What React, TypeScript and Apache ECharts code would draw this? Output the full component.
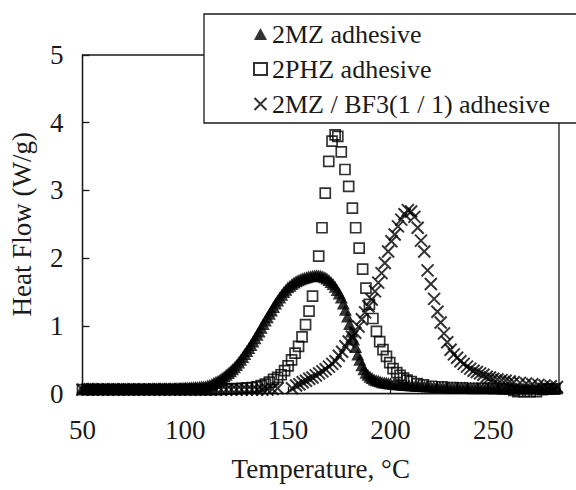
import React, { useEffect, useRef } from "react";
import * as echarts from "echarts";

// 2MZ adhesive: [temperature °C, heat flow W/g]
const mz2: number[][] = [
  [50,.08],[51,.08],[52,.08],[53,.08],[54,.08],[55,.08],[56,.08],[57,.08],[58,.078],[59,.078],
  [60,.078],[61,.078],[62,.078],[63,.078],[64,.078],[65,.078],[66,.078],[67,.078],[68,.078],[69,.078],
  [70,.078],[71,.078],[72,.078],[73,.078],[74,.078],[75,.078],[76,.078],[77,.078],[78,.078],[79,.078],
  [80,.078],[81,.078],[82,.078],[83,.078],[84,.08],[85,.08],[86,.08],[87,.08],[88,.08],[89,.08],
  [90,.08],[91,.08],[92,.082],[93,.082],[94,.082],[95,.084],[96,.085],[97,.085],[98,.086],[99,.088],
  [100,.09],[101,.09],[102,.092],[103,.094],[104,.096],[105,.098],[106,.1],[107,.102],[108,.105],[109,.108],
  [110,.11],[111,.12],[112,.13],[113,.145],[114,.16],[115,.175],[116,.19],[117,.21],[118,.23],[119,.255],
  [120,.28],[121,.305],[122,.33],[123,.36],[124,.39],[125,.425],[126,.46],[127,.5],[128,.54],[129,.585],
  [130,.63],[131,.675],[132,.72],[133,.77],[134,.82],[135,.87],[136,.92],[137,.975],[138,1.03],[139,1.08],
  [140,1.13],[141,1.18],[142,1.23],[143,1.28],[144,1.33],[145,1.375],[146,1.42],[147,1.46],[148,1.5],[149,1.535],
  [150,1.57],[151,1.595],[152,1.62],[153,1.64],[154,1.66],[155,1.675],[156,1.69],[157,1.7],[158,1.71],[159,1.72],
  [160,1.73],[161,1.735],[162,1.74],[163,1.745],[164,1.75],[165,1.745],[166,1.74],[167,1.73],[168,1.72],[169,1.7],
  [170,1.68],[171,1.65],[172,1.62],[173,1.58],[174,1.53],[175,1.48],[176,1.42],[177,1.33],[178,1.24],[179,1.14],
  [180,1.03],[181,.92],[182,.8],[183,.69],[184,.58],[185,.5],[186,.42],[187,.36],[188,.31],[189,.28],
  [190,.25],[191,.23],[192,.21],[193,.2],[194,.19],[195,.18],[196,.17],[197,.165],[198,.16],[199,.155],
  [200,.15],[201.5,.145],[203,.14],[204.5,.135],[206,.13],[207.5,.128],[209,.125],[210.5,.12],[212,.118],[213.5,.115],
  [215,.112],[216.5,.11],[218,.108],[219.5,.105],[221,.103],[222.5,.1],[224,.1],[225.5,.098],[227,.096],[228.5,.095],
  [230,.093],[231.5,.092],[233,.09],[234.5,.09],[236,.09],[237.5,.088],[239,.088],[240.5,.086],[242,.086],[243.5,.085],
  [245,.085],[246.5,.085],[248,.084],[249.5,.084],[251,.083],[252.5,.083],[254,.082],[255.5,.082],[257,.081],[258.5,.081],
  [260,.08],[261.5,.08],[263,.08],[264.5,.08],[266,.08],[267.5,.08],[269,.08],[270.5,.08],[272,.08],[273.5,.08],
  [275,.08],[276.5,.08],[278,.08],[279.5,.08],[281,.08]
];

// 2PHZ adhesive
const phz2: number[][] = [
  [50,.06],[52.5,.06],[55,.06],[57.5,.06],[60,.06],[62.5,.06],[65,.06],[67.5,.06],[70,.06],[72.5,.06],
  [75,.06],[77.5,.06],[80,.06],[82.5,.06],[85,.06],[87.5,.06],[90,.06],[92.5,.06],[95,.06],[97.5,.06],
  [100,.06],[102.5,.06],[105,.06],[107.5,.06],[110,.06],[112.5,.06],[115,.065],[117.5,.065],[120,.07],[122.5,.07],
  [125,.075],[127.5,.08],[130,.085],[132.5,.09],[135,.1],[137,.12],[139,.14],[141,.17],[143,.21],[145,.24],
  [146.7,.28],[148.4,.34],[150.1,.41],[151.8,.5],[153.5,.6],[155.2,.7],[156.9,.84],[158.6,1.02],[160.3,1.22],[162,1.44],
  [165,2.03],[166.6,2.45],[168.2,2.96],[169.9,3.43],[171.5,3.73],[173,3.82],[174.3,3.8],[176,3.57],[177.8,3.31],[179.6,3.06],
  [181.4,2.74],[183,2.45],[184.7,2.15],[186.4,1.84],[188,1.56],[189.7,1.32],[191.4,1.11],[193.1,.92],[194.7,.77],[196.3,.65],
  [198,.55],[199.6,.46],[201.2,.37],[203,.31],[204.6,.27],[206.3,.23],[208,.2],[210,.18],[213,.15],[216,.13],
  [220,.11],[225,.1],[230,.09],[235,.085],[240,.08],[245,.08],[250,.075],[255,.07],[260,.05],[262,.03],
  [265,.03],[268,.03],[271,.03],[274,.06],[277,.07],[280,.07]
];

// 2MZ / BF3 (1/1) adhesive
const bf3: number[][] = [
  [50,.06],[52.5,.06],[55,.06],[57.5,.06],[60,.06],[62.5,.06],[65,.06],[67.5,.06],[70,.06],[72.5,.06],
  [75,.06],[77.5,.06],[80,.06],[82.5,.06],[85,.06],[87.5,.06],[90,.06],[92.5,.06],[95,.06],[97.5,.06],
  [100,.06],[102.5,.06],[105,.06],[107.5,.06],[110,.06],[112.5,.06],[115,.06],[117.5,.06],[120,.06],[122.5,.06],
  [125,.06],[127.5,.06],[130,.06],[132.5,.06],[135,.06],[137.5,.06],[140,.06],[142.5,.07],[145,.08],[152,.08],
  [154,.12],[155.6,.14],[157.2,.17],[158.8,.19],[160.4,.22],[162,.24],[163.6,.27],[165.2,.3],[166.8,.33],[168.4,.36],
  [170,.4],[171.6,.44],[173.2,.48],[174.8,.56],[176.4,.62],[178,.7],[179.6,.77],[181.2,.84],[182.8,.9],[184.4,.99],
  [186,1.1],[187.6,1.2],[189.2,1.29],[190.8,1.39],[192.4,1.51],[194,1.64],[195.6,1.78],[197.2,1.93],[198.8,2.1],[200.4,2.25],
  [202,2.35],[203.6,2.47],[205.2,2.57],[206.8,2.65],[208.4,2.71],[210,2.69],[211.6,2.61],[213.2,2.45],[214.8,2.26],[216.4,2.1],
  [218,1.82],[219.6,1.62],[221.2,1.4],[222.8,1.21],[224.4,1.05],[226,.89],[227.6,.76],[229.2,.65],[230.8,.58],[232.4,.53],
  [234,.48],[235.6,.44],[237.2,.4],[238.8,.37],[240.4,.34],[242,.32],[243.6,.3],[245.2,.28],[246.8,.25],[248.4,.24],
  [250,.22],[252,.21],[254,.2],[256,.19],[258,.18],[260,.17],[263,.16],[266,.15],[269,.14],[272,.13],
  [275,.12],[278,.11],[281,.1]
];

const seriesNames = ["2MZ adhesive", "2PHZ adhesive", "2MZ / BF3(1 / 1) adhesive"];
const xTitle = "Temperature, °C";
const yTitle = "Heat Flow (W/g)";

const FONT = "'Liberation Serif', 'Times New Roman', serif";
const INK = "#1a1a1a";
const MARK = "#000";
const CROSS = "path://M0,0L10,10M10,0L0,10";
const FS = 27;

export default function App() {
  const ref = useRef<HTMLDivElement>(null);
  useEffect(() => {
    if (!ref.current) return;
    const chart = echarts.init(ref.current, null, { renderer: "svg" });
    chart.setOption({
      animation: false,
      backgroundColor: "#fff",
      textStyle: { fontFamily: FONT, color: INK },
      grid: {
        left: 82.5, right: 17, top: 55, bottom: 96.3,
        show: true, borderColor: INK, borderWidth: 1.3, backgroundColor: "transparent",
      },
      graphic: [
        {
          type: "rect", z: 50,
          shape: { x: 204, y: 14, width: 400, height: 109 },
          style: { fill: "#fff", stroke: INK, lineWidth: 1.3 },
        },
      ],
      legend: {
        z: 60,
        orient: "vertical",
        left: 248, top: 15,
        itemWidth: 13, itemHeight: 12,
        itemGap: 7,
        textStyle: { fontFamily: FONT, fontSize: 26, color: INK, lineHeight: 28 },
        data: seriesNames,
      },
      xAxis: {
        type: "value", min: 50, max: 282, interval: 50,
        name: xTitle, nameLocation: "middle", nameGap: 62,
        nameTextStyle: { fontFamily: FONT, fontSize: FS, color: INK },
        axisLine: { show: true, lineStyle: { color: INK, width: 1.3 } },
        axisTick: { show: true, inside: true, length: 7, lineStyle: { color: INK, width: 1.3 } },
        axisLabel: {
          fontFamily: FONT, fontSize: FS, color: INK, margin: 23,
          formatter: (v: number) => (v % 50 === 0 ? String(v) : ""),
        },
        splitLine: { show: false },
      },
      yAxis: {
        type: "value", min: 0, max: 5, interval: 1,
        name: yTitle, nameLocation: "middle", nameGap: 47,
        nameTextStyle: { fontFamily: FONT, fontSize: FS, color: INK },
        axisLine: { show: true, lineStyle: { color: INK, width: 1.3 } },
        axisTick: { show: true, inside: true, length: 7, lineStyle: { color: INK, width: 1.3 } },
        axisLabel: { fontFamily: FONT, fontSize: FS, color: INK, margin: 19 },
        splitLine: { show: false },
      },
      series: [
        {
          name: seriesNames[0], type: "scatter", data: mz2, clip: false,
          symbol: "triangle", symbolSize: [13, 12],
          itemStyle: { color: MARK },
        },
        {
          name: seriesNames[1], type: "scatter", data: phz2, clip: false,
          symbol: "rect", symbolSize: 10,
          itemStyle: { color: "transparent", borderColor: MARK, borderWidth: 1.7 },
        },
        {
          name: seriesNames[2], type: "scatter", data: bf3, clip: false,
          symbol: CROSS, symbolSize: 12,
          itemStyle: { color: "transparent", borderColor: MARK, borderWidth: 2 },
        },
      ],
    });
    return () => chart.dispose();
  }, []);
  return (
    <div
      ref={ref}
      style={{ position: "fixed", left: 0, top: 0, width: 576, height: 490 }}
    />
  );
}
